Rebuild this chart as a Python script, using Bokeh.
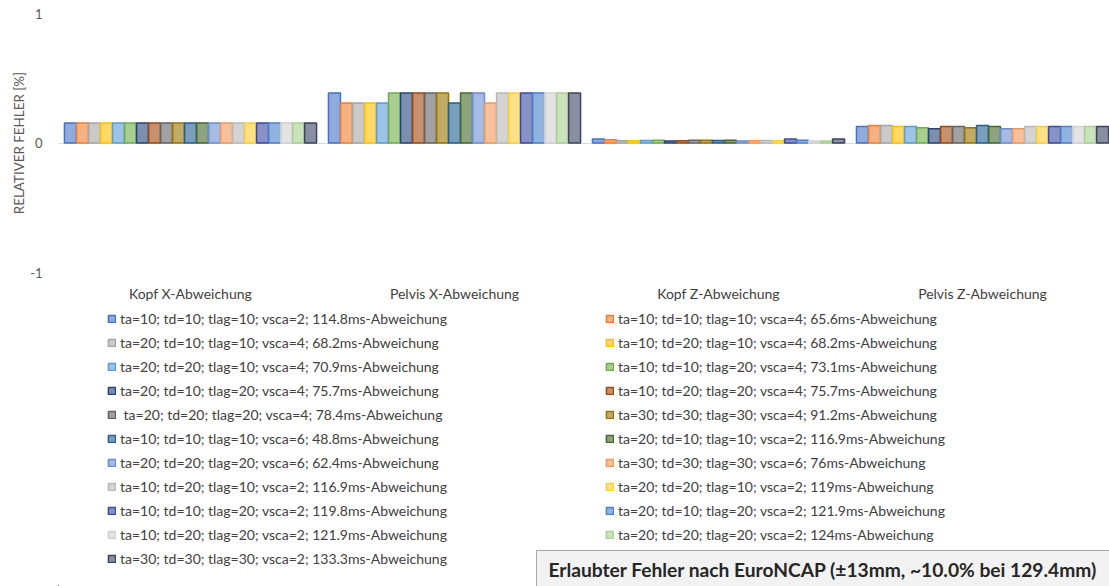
from bokeh.plotting import figure
from bokeh.layouts import column
from bokeh.models import ColumnDataSource, Range1d, FixedTicker, Legend, LegendItem, Label
from bokeh.transform import dodge
from bokeh.embed import file_html
from bokeh.resources import INLINE

categories = ["Kopf X-Abweichung", "Pelvis X-Abweichung", "Kopf Z-Abweichung", "Pelvis Z-Abweichung"]

series_names = [
    "ta=10; td=10; tlag=10; vsca=2; 114.8ms-Abweichung",
    "ta=10; td=10; tlag=10; vsca=4; 65.6ms-Abweichung",
    "ta=20; td=10; tlag=10; vsca=4; 68.2ms-Abweichung",
    "ta=10; td=20; tlag=10; vsca=4; 68.2ms-Abweichung",
    "ta=20; td=20; tlag=10; vsca=4; 70.9ms-Abweichung",
    "ta=10; td=10; tlag=20; vsca=4; 73.1ms-Abweichung",
    "ta=20; td=10; tlag=20; vsca=4; 75.7ms-Abweichung",
    "ta=10; td=20; tlag=20; vsca=4; 75.7ms-Abweichung",
    " ta=20; td=20; tlag=20; vsca=4; 78.4ms-Abweichung",
    "ta=30; td=30; tlag=30; vsca=4; 91.2ms-Abweichung",
    "ta=10; td=10; tlag=10; vsca=6; 48.8ms-Abweichung",
    "ta=20; td=10; tlag=10; vsca=2; 116.9ms-Abweichung",
    "ta=20; td=20; tlag=20; vsca=6; 62.4ms-Abweichung",
    "ta=30; td=30; tlag=30; vsca=6; 76ms-Abweichung",
    "ta=10; td=20; tlag=10; vsca=2; 116.9ms-Abweichung",
    "ta=20; td=20; tlag=10; vsca=2; 119ms-Abweichung",
    "ta=10; td=10; tlag=20; vsca=2; 119.8ms-Abweichung",
    "ta=20; td=10; tlag=20; vsca=2; 121.9ms-Abweichung",
    "ta=10; td=20; tlag=20; vsca=2; 121.9ms-Abweichung",
    "ta=20; td=20; tlag=20; vsca=2; 124ms-Abweichung",
    "ta=30; td=30; tlag=30; vsca=2; 133.3ms-Abweichung",
]

series_colors = [
    "#4472C4", "#ED7D31", "#A5A5A5", "#FFC000", "#5B9BD5", "#70AD47",
    "#264478", "#9E480E", "#636363", "#997300", "#255E91", "#43682B",
    "#698ED0", "#F1975A", "#B7B7B7", "#FFCD33", "#3A4AA2", "#4A80CC",
    "#D0D0D0", "#A9D18E", "#3B4560",
]

# relative error in percent, one value per series for each category
kopf_x = [0.155] * 21
pelvis_x = [0.386, 0.309, 0.309, 0.309, 0.309, 0.386, 0.386, 0.386, 0.386, 0.386, 0.309,
            0.386, 0.386, 0.309, 0.386, 0.386, 0.386, 0.386, 0.386, 0.386, 0.386]
kopf_z = [0.031, 0.025, 0.017, 0.017, 0.020, 0.022, 0.015, 0.018, 0.022, 0.022, 0.020,
          0.022, 0.015, 0.017, 0.020, 0.017, 0.030, 0.022, 0.015, 0.015, 0.030]
pelvis_z = [0.127, 0.135, 0.135, 0.127, 0.127, 0.117, 0.110, 0.127, 0.127, 0.117, 0.135,
            0.127, 0.110, 0.110, 0.127, 0.127, 0.127, 0.127, 0.127, 0.127, 0.127]

y_ticks = [-1, 0, 1]
y_tick_labels = ["-1", "0", "1"]
note_text = "Erlaubter Fehler nach EuroNCAP (±13mm, ~10.0% bei 129.4mm)"

FONT = "Lato"
TEXT_DARK = "#404040"
TEXT_AXIS = "#595959"
n = len(series_names)
group_width = 0.955
bar_w = group_width / n

cat_x = [i + 0.5 for i in range(len(categories))]
data = {"x": cat_x}
for i in range(n):
    data[f"s{i}"] = [kopf_x[i], pelvis_x[i], kopf_z[i], pelvis_z[i]]
src = ColumnDataSource(data)

bar_style = [dict(fill_color=c, fill_alpha=0.6, line_color=c, line_width=1.5)
             for c in series_colors]
offsets = [-group_width / 2 + (i + 0.5) * bar_w for i in range(n)]

# ---- bar chart -------------------------------------------------------------
p = figure(width=1109, height=306,
           x_range=Range1d(0, 3.981), y_range=Range1d(-1, 1),
           output_backend="svg", toolbar_location=None,
           min_border_left=58, min_border_right=0, min_border_top=13, min_border_bottom=34)
p.outline_line_color = None
p.border_fill_color = "white"

p.xgrid.grid_line_color = None
p.ygrid.ticker = FixedTicker(ticks=y_ticks)
p.ygrid.grid_line_color = "#D9D9D9"
p.ygrid.grid_line_width = 1

p.yaxis.ticker = FixedTicker(ticks=y_ticks)
p.yaxis.major_label_overrides = {t: s for t, s in zip(y_ticks, y_tick_labels)}
p.yaxis.axis_line_color = None
p.yaxis.major_tick_line_color = None
p.yaxis.major_tick_out = 0
p.yaxis.major_tick_in = 0
p.yaxis.minor_tick_line_color = None
p.yaxis.major_label_text_font = FONT
p.yaxis.major_label_text_font_size = "13px"
p.yaxis.major_label_text_color = TEXT_AXIS
p.yaxis.major_label_standoff = 16
p.yaxis.axis_label = "RELATIVER FEHLER [%]"
p.yaxis.axis_label_text_font = FONT
p.yaxis.axis_label_text_font_size = "13.4px"
p.yaxis.axis_label_text_font_style = "normal"
p.yaxis.axis_label_text_color = TEXT_AXIS
p.yaxis.axis_label_standoff = 0

p.xaxis.ticker = FixedTicker(ticks=cat_x)
p.xaxis.major_label_overrides = {x: c for x, c in zip(cat_x, categories)}
p.xaxis.axis_line_color = None
p.xaxis.major_tick_line_color = None
p.xaxis.major_tick_out = 0
p.xaxis.major_tick_in = 0
p.xaxis.minor_tick_line_color = None
p.xaxis.major_label_text_font = FONT
p.xaxis.major_label_text_font_size = "14px"
p.xaxis.major_label_text_color = TEXT_DARK
p.xaxis.major_label_standoff = 12

for i in range(n):
    p.vbar(x=dodge("x", offsets[i], range=p.x_range), top=f"s{i}", bottom=0, width=bar_w,
           source=src, **bar_style[i])

# ---- legend and note panel (pixel coordinates) ------------------------------
lg = figure(width=1109, height=280, x_range=Range1d(58, 1109), y_range=Range1d(0, 280),
            output_backend="svg", toolbar_location=None,
            x_axis_location=None, y_axis_location=None,
            min_border_left=58, min_border_right=0,
            min_border_top=0, min_border_bottom=0)
lg.outline_line_color = None
lg.xgrid.visible = False
lg.ygrid.visible = False

# legend swatches come from bar renderers of the same data; their bars lie
# left of this panel's visible x range, so only the legend entries show
items = []
for i in range(n):
    r = lg.vbar(x=dodge("x", offsets[i], range=lg.x_range), top=f"s{i}", bottom=0,
                width=bar_w, source=src, **bar_style[i])
    items.append(LegendItem(label=series_names[i], renderers=[r]))

legend = Legend(items=items, orientation="horizontal", ncols=2,
                location=(49, 18.5), padding=0, margin=0, spacing=6,
                glyph_width=9, glyph_height=9, label_standoff=4,
                label_height=18, label_width=479,
                label_text_font=FONT, label_text_font_size="14px",
                label_text_color=TEXT_DARK,
                border_line_color=None, background_fill_alpha=0)
lg.add_layout(legend, "center")

# padding order: left, right, top, bottom
note = Label(x=536, y=15, text=note_text,
             text_font=FONT, text_font_size="19.2px", text_font_style="bold",
             text_color="#262626", text_baseline="middle", text_align="left",
             padding=(12, 40, 7, 12),
             background_fill_color="#F2F2F2", border_line_color="#A6A6A6")
lg.add_layout(note)

layout = column(p, lg, spacing=0)
open("out.html", "w").write(file_html(layout, INLINE))
